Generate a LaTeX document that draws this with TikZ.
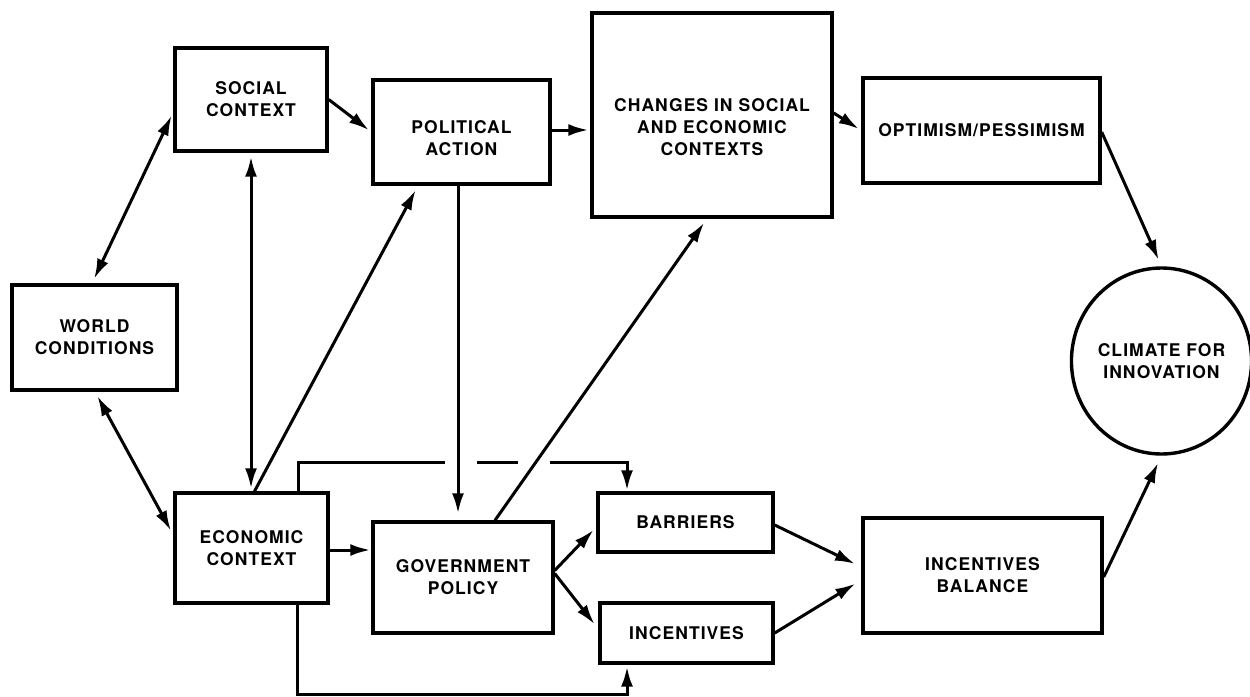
\documentclass[tikz,border=0pt]{standalone}
\usepackage{fontspec}
\setmainfont{TeX Gyre Heros}[LetterSpace=6]
\usetikzlibrary{arrows.meta,shapes.geometric}
\newcommand\labfont{\bfseries\fontsize{17.5}{22}\selectfont}
\begin{document}
\begin{tikzpicture}[x=1pt,y=-1pt,
  box/.style={draw, line width=3.4pt, inner sep=0pt, align=center, font=\labfont},
  lbl/.style={align=center, inner sep=0pt, font=\labfont},
  conn/.style={line width=3pt, -{Latex[length=20pt,width=12pt]}},
  dconn/.style={line width=3pt, {Latex[length=20pt,width=12pt]}-{Latex[length=20pt,width=12pt]}}]
\useasboundingbox (0,0) rectangle (1250,696);

% boxes
\node[box, minimum width=165pt, minimum height=105pt] (world) at (94.5,337.5) {WORLD\\CONDITIONS};
\node[box, minimum width=152pt, minimum height=103pt] (social) at (251,99.5) {SOCIAL\\CONTEXT};
\node[box, minimum width=153pt, minimum height=110pt] (economic) at (251.5,548) {ECONOMIC\\CONTEXT};
\node[box, minimum width=177pt, minimum height=104pt] (political) at (461.5,132) {};
\node[lbl] (politicalT) at ([yshift=-6pt]political.center) {POLITICAL\\ACTION};
\node[box, minimum width=240pt, minimum height=204pt] (changes) at (712,115) {};
\node[lbl] (changesT) at ([yshift=-12pt]changes.center) {CHANGES IN SOCIAL\\AND ECONOMIC\\CONTEXTS};
\node[box, minimum width=237pt, minimum height=105pt] (optimism) at (981.5,130.5) {OPTIMISM/PESSIMISM};
\node[box, minimum width=180pt, minimum height=111pt] (government) at (463,577.5) {GOVERNMENT\\POLICY};
\node[box, minimum width=175pt, minimum height=59pt] (barriers) at (685.5,522.5) {BARRIERS};
\node[box, minimum width=173pt, minimum height=60pt] (incentives) at (686.5,633) {INCENTIVES};
\node[box, minimum width=239pt, minimum height=115pt] (ib) at (982.5,575.5) {INCENTIVES\\BALANCE};
\node[box, ellipse, minimum width=173pt, minimum height=186pt] (climate) at (1161.5,361) {CLIMATE FOR\\INNOVATION};

% connectors
\draw[dconn, shorten <=5pt, shorten >=4pt] ([xshift=-2.5pt]world.north) -- ([yshift=-12.5pt]social.west);
\draw[dconn, shorten <=5pt, shorten >=5pt] ([xshift=0.5pt]world.south) -- ([yshift=13pt]economic.west);
\draw[dconn, shorten <=4pt, shorten >=3pt] (social.south) -- (social.south |- economic.north);
\draw[conn, shorten >=3pt] (social.east) -- (political.west);
\draw[conn, shorten >=2pt] ([yshift=2pt]political.east) -- ([yshift=2pt]political.east -| changes.west);
\draw[conn, shorten >=3pt] ([yshift=2pt]changes.east) -- (optimism.west);
\draw[conn, shorten >=7pt] ([yshift=-1.5pt]optimism.east) -- (climate.north);
\draw[conn, shorten >=5pt] ([xshift=3pt]economic.north) -- ([xshift=-43.5pt]political.south);
\draw[conn, shorten >=7pt] ([xshift=-3.5pt]political.south) -- ([xshift=-3.5pt]political.south |- government.north);
\draw[conn, shorten >=5pt] ([xshift=32pt]government.north) -- ([xshift=-5pt]changes.south);
\draw[conn, shorten >=1pt] ([yshift=-2pt]economic.east) -- ([yshift=-2pt]economic.east -| government.west);
\draw[conn, shorten >=4pt] ([yshift=7pt]government.east) -- ([yshift=-4.5pt]barriers.west);
\draw[conn, shorten >=6pt] ([yshift=4pt]government.east) -- ([yshift=4pt]incentives.west);
\draw[conn, shorten >=7pt] ([yshift=-2.5pt]barriers.east) -- ([yshift=8.5pt]ib.west);
\draw[conn, shorten >=7pt] (incentives.east) -- ([yshift=-4.5pt]ib.west);
\draw[conn, shorten >=8pt] ([yshift=-1.5pt]ib.east) -- (climate.south);
\draw[conn, dash pattern=on 176pt off 32pt on 41pt off 32pt on 400pt, shorten >=1pt]
  ([xshift=46.5pt]economic.north) -- ++(0,-29) -| ([xshift=-58.5pt]barriers.north);
\draw[conn, shorten >=2pt]
  ([xshift=45.5pt]economic.south) -- ++(0,90) -| ([xshift=-59.5pt]incentives.south);
\end{tikzpicture}
\end{document}
